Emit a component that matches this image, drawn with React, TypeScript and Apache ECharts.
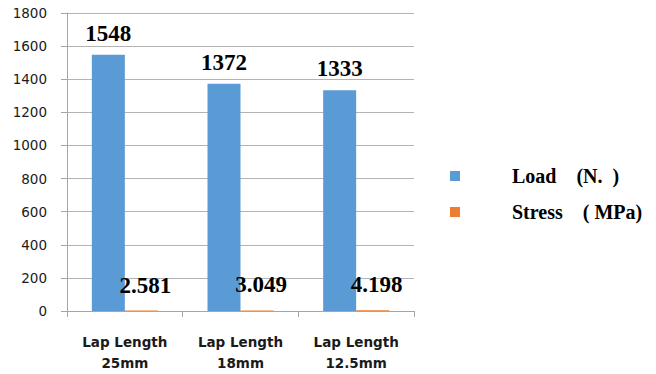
import React, { useEffect, useRef } from "react";
import * as echarts from "echarts";

const categories = ["Lap Length\n25mm", "Lap Length\n18mm", "Lap Length\n12.5mm"];
const loadValues = [1548, 1372, 1333];
const stressValues = [2.581, 3.049, 4.198];
const seriesNames = ["Load\u00A0\u00A0\u00A0\u00A0(N.\u00A0\u00A0)", "Stress\u00A0\u00A0\u00A0\u00A0(\u00A0MPa)"];
const yTicks = { min: 0, max: 1800, interval: 200 };

export default function App() {
  const ref = useRef<HTMLDivElement>(null);
  useEffect(() => {
    if (!ref.current) return;
    const chart = echarts.init(ref.current, undefined, { renderer: "svg" });
    const dataLabel = {
      show: true,
      position: "top",
      fontFamily: "Liberation Serif",
      fontWeight: "bold",
      fontSize: 23,
      color: "#000",
    };
    chart.setOption({
      animation: false,
      backgroundColor: "#fff",
      grid: { left: 67, right: 242, top: 13, bottom: 63 },
      legend: {
        orient: "vertical",
        left: 445,
        top: 161,
        itemWidth: 10,
        itemHeight: 10,
        itemGap: 16,
        icon: "rect",
        textStyle: {
          fontFamily: "Liberation Serif",
          fontWeight: "bold",
          fontSize: 20,
          color: "#000",
          padding: [0, 0, 0, 47],
        },
        data: seriesNames,
      },
      xAxis: {
        type: "category",
        data: categories,
        axisLine: { lineStyle: { color: "#a6a6a6" } },
        axisTick: { show: true, length: 6, lineStyle: { color: "#a6a6a6" } },
        axisLabel: {
          margin: 20,
          fontFamily: "DejaVu Sans",
          fontWeight: "bold",
          fontSize: 13.5,
          lineHeight: 21,
          color: "#1a1a1a",
        },
      },
      yAxis: {
        type: "value",
        min: yTicks.min,
        max: yTicks.max,
        interval: yTicks.interval,
        axisLine: { show: true, lineStyle: { color: "#a6a6a6" } },
        axisTick: { show: true, length: 6, lineStyle: { color: "#a6a6a6" } },
        splitLine: { lineStyle: { color: "#b3b3b3", width: 1 } },
        axisLabel: {
          margin: 20,
          fontFamily: "DejaVu Sans",
          fontSize: 13.5,
          color: "#1a1a1a",
          formatter: (v: number) => String(v),
        },
      },
      series: [
        {
          name: seriesNames[0],
          type: "bar",
          data: loadValues,
          barWidth: 33,
          barGap: "0%",
          itemStyle: { color: "#5B9BD5" },
          label: { ...dataLabel, distance: 10 },
        },
        {
          name: seriesNames[1],
          type: "bar",
          data: stressValues,
          barWidth: 33,
          barGap: "0%",
          itemStyle: { color: "#ED7D31" },
          label: { ...dataLabel, distance: 14, offset: [4, 0] },
        },
      ],
    });
    return () => chart.dispose();
  }, []);
  return (
    <div
      ref={ref}
      style={{ position: "fixed", left: 0, top: 0, width: 656, height: 374 }}
    />
  );
}
